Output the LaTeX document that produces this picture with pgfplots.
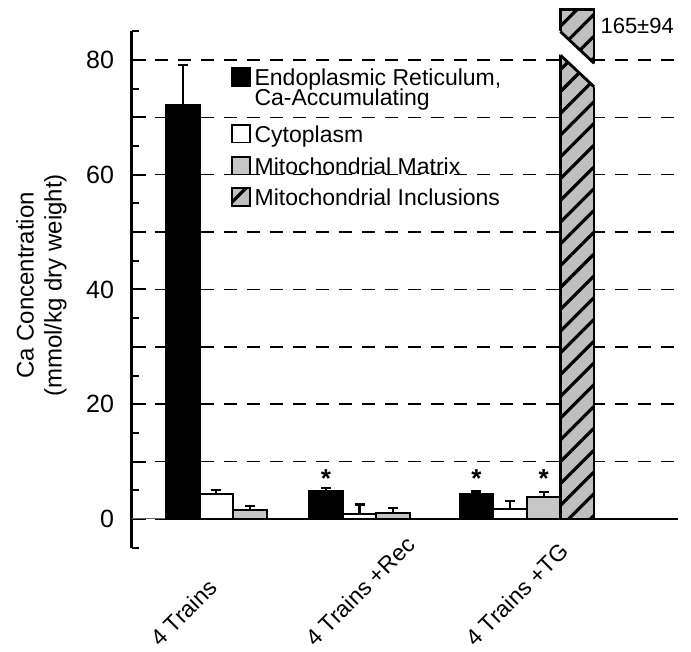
\documentclass[border=0pt]{standalone}
\usepackage{pgfplots}
\pgfplotsset{compat=1.18}
\usetikzlibrary{patterns.meta}
\usepackage{fontspec}
\setmainfont{Liberation Sans}

% legend rows: the declared height sets the spacing from the row above
\newcommand{\lrow}[2]{\raisebox{0pt}[#1][0pt]{#2}}

\begin{document}
\begin{tikzpicture}
\begin{axis}[
  scale only axis, width=273.2pt, height=258.3pt,
  clip=false,
  xmin=0, xmax=16.26, ymin=-5, ymax=85,
  separate axis lines,
  axis x line*=bottom, axis y line*=left,
  x axis line style={draw=none},
  y axis line style={line width=1.3pt},
  xtick={0.84,5.45,10.22},
  xticklabels={4 Trains, 4 Trains +Rec, 4 Trains +TG},
  xtick style={draw=none},
  xticklabel style={font=\fontsize{11.5}{13}\selectfont, inner sep=0pt,
    anchor=base west, yshift=-50.2pt, rotate=45},
  ytick={0,10,...,80},
  yticklabels={0,,20,,40,,60,,80},
  minor ytick={-5,5,...,85},
  ytick style={line width=1pt, black},
  major tick length=7pt, minor tick length=3.5pt,
  yticklabel style={font=\fontsize{12.5}{14}\selectfont, xshift=-5.3pt},
  /pgf/number format/assume math mode=true,
  ymajorgrids,
  major grid style={black, line width=0.7pt, dash pattern=on 6.5pt off 5pt},
  ylabel={Ca Concentration\\(mmol/kg dry weight)},
  every axis y label/.style={at={(axis description cs:0,0.5)}, xshift=-45.1pt,
    yshift=2pt, rotate=90, anchor=center, align=center,
    font=\fontsize{12}{14}\selectfont},
  bar width=1, bar shift=0pt,
  legend style={draw=none, fill=none, inner sep=0pt,
    at={(axis cs:2.955,78.75)}, anchor=north west,
    cells={anchor=base west}, nodes={inner sep=0pt},
    row sep=0pt, column sep=2pt, font=\fontsize{11.5}{13}\selectfont},
  legend image code/.code={\draw[#1, line width=0.8pt] (0pt,0pt) rectangle (8.8pt,8.8pt);},
  ebar/.style={error bars/.cd, y dir=plus, y explicit, error mark=|,
    error bar style={line width=1.1pt, black},
    error mark options={line width=1.2pt, mark size=2.5pt, black}},
]

% baseline at zero: faint next to the axis, heavy under the bars
\addplot[forget plot, black!60, line width=0.5pt] coordinates {(0,0) (1.0,0)};
\addplot[forget plot, black, line width=1.2pt] coordinates {(1.0,0) (16.26,0)};

% ER, Ca-accumulating
\addplot[ybar, fill=black, draw=black, line width=1pt, ebar]
  coordinates {(1.52,72.1) +- (0,7.0) (5.78,4.88) +- (0,0.5) (10.26,4.3) +- (0,0.5)};
\addlegendentry{\lrow{9pt}{Endoplasmic Reticulum,}}
\addlegendimage{empty legend}
\addlegendentry{\lrow{8.5pt}{Ca-Accumulating}}

% cytoplasm
\addplot[ybar, fill=white, draw=black, line width=1pt, ebar]
  coordinates {(2.52,4.3) +- (0,0.75) (6.78,0.8) +- (0,1.75) (11.26,1.74) +- (0,1.4)};
\addlegendentry{\lrow{16.8pt}{Cytoplasm}}

% mitochondrial matrix
\addplot[ybar, fill=gray!45, draw=black, line width=1pt, ebar]
  coordinates {(3.52,1.57) +- (0,0.7) (7.78,1.0) +- (0,0.9) (12.26,3.9) +- (0,0.85)};
\addlegendentry{\lrow{14.5pt}{Mitochondrial Matrix}}

% mitochondrial inclusions (bar broken, true value 165)
\addplot[ybar, fill=gray!50, draw=black, line width=1.4pt,
  postaction={pattern={Lines[angle=45,distance=7.7pt,line width=1.6pt]}}]
  coordinates {(13.26,88.7)};
\addlegendentry{\lrow{14.2pt}{Mitochondrial Inclusions}}

% significance stars
\addplot[forget plot, draw=none, mark=none, nodes near coords={\bfseries *},
  every node near coord/.append style={anchor=center, font=\fontsize{13}{13}\selectfont}]
  coordinates {(5.78,7.1) (10.26,7.1) (12.26,7.1)};

% axis break on the inclusions bar
\fill[white] (axis cs:12.70,81.13) -- (axis cs:13.82,74.97)
  -- (axis cs:13.82,79.07) -- (axis cs:12.70,85.23) -- cycle;
\draw[black, line width=1.4pt] (axis cs:12.76,80.8) -- (axis cs:13.76,75.3);
\draw[black, line width=1.4pt] (axis cs:12.76,84.9) -- (axis cs:13.76,79.4);

\node[anchor=base west, inner sep=0pt, font=\fontsize{11}{13}\selectfont]
  at (axis cs:13.94,84.6) {165±94};
\end{axis}
\path (-65.85pt,-52.15pt) rectangle (279.65pt,273.85pt);
\end{tikzpicture}
\end{document}
